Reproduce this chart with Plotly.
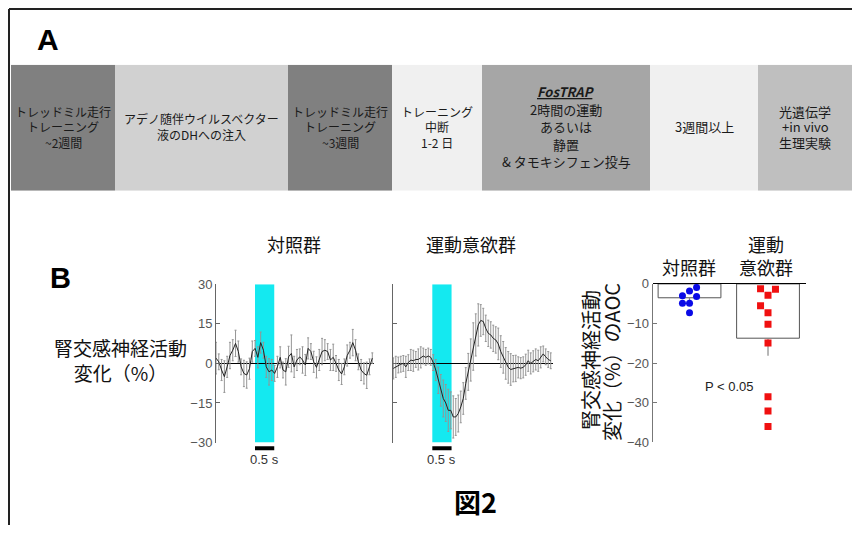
import plotly.graph_objects as go

# ---------------- data ----------------
stage_labels = [
    "トレッドミル走行<br>トレーニング<br>~2週間",
    "アデノ随伴ウイルスベクター<br>液のDHへの注入",
    "トレッドミル走行<br>トレーニング<br>~3週間",
    "トレーニング<br>中断<br>1-2 日",
    "<b><i><u>FosTRAP</u></i></b><br>2時間の運動<br>あるいは<br>静置<br>&amp; タモキシフェン投与",
    "3週間以上",
    "光遺伝学<br>+in vivo<br>生理実験",
]
stage_widths = [104, 173, 104, 90, 168, 108, 94]

stim_start, stim_end = 0.0, 0.5

control_trace = [2.0, 0.6, -2.5, -5.0, -1.3, 3.0, 5.0, 7.6, 4.5, -1.3,
                 -3.8, -4.4, -2.0, 4.5, 5.7, 2.3, 7.9, 5.0, -1.3, -3.2,
                 -2.5, -3.8, -1.3, 2.3, -2.5, -3.2, 2.5, 3.8, -1.3, 1.3,
                 2.5, 1.3, -0.6, 5.7, 4.5, 0.6, -1.5, 1.3, 4.5, 5.0,
                 4.5, 1.3, 2.3, 0.0, -2.5, -4.0, -1.3, 3.0, 5.0, 7.9,
                 5.0, 0.6, -2.5, -3.8, -4.5, -1.3, 2.0]
control_err = [6, 3, 4, 6, 4, 5, 4, 5, 4, 3,
               5, 5, 4, 4, 3, 4, 4, 3, 4, 5,
               4, 3, 4, 4, 3, 5, 4, 7, 4, 4,
               3, 5, 4, 4, 3, 4, 4, 4, 5, 4,
               3, 4, 5, 3, 4, 4, 3, 4, 3, 5,
               4, 3, 4, 4, 5, 3, 2]

motiv_trace = [-1.9, -1.3, -0.6, -0.3, 0.0, -1.3, 0.3, 1.3, 1.0, 1.5,
               1.5, 2.3, 2.8, 2.3, 2.8, 2.3, 0.3, -2.5, -6.4, -10.2,
               -13.3, -15.0, -17.8, -17.8, -20.3, -20.3, -19.0, -16.5, -13.3, -7.6,
               -3.2, 1.3, 6.4, 10.8, 14.6, 16.3, 15.9, 13.3, 11.4, 10.8,
               9.5, 8.9, 7.4, 4.5, 2.3, 0.0, -1.5, -2.3, -2.0, -1.9,
               -1.5, -1.8, -1.5, -0.5, 1.0, 0.0, 0.8, 1.5, 1.0, 2.3,
               3.6, 2.5, 1.5, 1.0]
motiv_err = [4, 4, 3, 3, 3, 4, 3, 4, 4, 3,
             4, 4, 3, 3, 3, 3, 3, 4, 5, 6,
             7, 7, 8, 7, 8, 7, 7, 6, 6, 6,
             7, 8, 9, 8, 8, 6, 5, 5, 5, 5,
             5, 5, 6, 6, 6, 6, 6, 6, 5, 5,
             4, 4, 4, 4, 4, 4, 4, 4, 4, 4,
             3, 3, 3, 3]

t0_left, dt_left = -1.013, 0.0725
t0_right, dt_right = -1.013, 0.0649
t_left = [round(t0_left + dt_left * i, 4) for i in range(len(control_trace))]
t_right = [round(t0_right + dt_right * i, 4) for i in range(len(motiv_trace))]

groups = ["対照群", "運動<br>意欲群"]
group_means = [-3.5, -13.7]
group_sem = [0.8, 4.4]
control_aoc = [-0.9, -1.8, -3.0, -3.2, -4.9, -4.9, -7.3]
control_jit = [0.09, 0.0, -0.09, 0.09, -0.09, 0.0, 0.0]
motiv_aoc = [-1.2, -1.35, -2.85, -5.5, -7.25, -10.2, -14.9, -28.5, -32.1, -36.0]
motiv_jit = [-0.095, 0.095, 0.0, -0.095, 0.0, 0.0, 0.0, 0.0, 0.0, 0.0]

y_ticks_trace = [-30, -15, 0, 15, 30]
y_ticks_bar = [-40, -30, -20, -10, 0]

# ---------------- helpers ----------------
W, H = 852, 533
# the page is photographed slightly compressed vertically; compensate
Y_OFF, Y_SCALE = 8.5, 0.968
def px(x): return x / W
def py(y): return 1 - ((y - Y_OFF) / Y_SCALE) / H

JP = "Noto Sans CJK JP"
LAT = "Liberation Sans, Arial, sans-serif"
stage_colors = ["#808080", "#d1d1d1", "#808080", "#f0f0f0", "#a6a6a6", "#f0f0f0", "#bfbfbf"]
stage_sizes = [12, 12, 12, 12, 13, 13, 13]
BOX_TOP, BOX_BOTTOM = 66, 191.5
LINE_GAP = 17.5  # px between text lines inside the timeline boxes

fig = go.Figure()

# Panel A timeline
bases = []
acc = 0
for w in stage_widths:
    bases.append(acc)
    acc += w
fig.add_trace(go.Bar(x=stage_widths, y=[0] * len(stage_widths), base=bases, orientation="h",
                     width=1, marker=dict(color=stage_colors, line_width=0),
                     xaxis="x4", yaxis="y4", hoverinfo="skip", showlegend=False))

annotations = []
box_mid = (BOX_TOP + BOX_BOTTOM) / 2 - 1
for lab, b, w, s in zip(stage_labels, bases, stage_widths, stage_sizes):
    lines = lab.split("<br>")
    gap = LINE_GAP if len(lines) > 3 else 15.5
    n = len(lines)
    for k, line in enumerate(lines):
        yy = box_mid + (k - (n - 1) / 2) * gap
        annotations.append(dict(x=b + w / 2, y=py(yy), xref="x4", yref="paper", text=line,
                                showarrow=False, xanchor="center", yanchor="middle",
                                font=dict(family=JP, size=s, color="#1a1a1a"), align="center"))

# Traces
fig.add_trace(go.Scatter(x=t_left, y=control_trace, mode="lines",
                         line=dict(color="#222222", width=1),
                         error_y=dict(type="data", array=control_err, color="#959595", thickness=1, width=1),
                         xaxis="x", yaxis="y", showlegend=False, hoverinfo="skip"))
fig.add_trace(go.Scatter(x=t_right, y=motiv_trace, mode="lines",
                         line=dict(color="#222222", width=1),
                         error_y=dict(type="data", array=motiv_err, color="#959595", thickness=1, width=1),
                         xaxis="x2", yaxis="y2", showlegend=False, hoverinfo="skip"))

# Bar chart
fig.add_trace(go.Bar(x=[0, 1], y=group_means, width=0.8,
                     marker=dict(color="white", line=dict(color="#555555", width=1)),
                     error_y=dict(type="data", symmetric=False, array=[0, 0], arrayminus=group_sem,
                                  color="#888888", thickness=1.2, width=0),
                     xaxis="x3", yaxis="y3", showlegend=False, hoverinfo="skip"))
fig.add_trace(go.Scatter(x=[0 + j for j in control_jit], y=control_aoc, mode="markers",
                         marker=dict(color="#0a0ae6", size=7, symbol="circle"),
                         xaxis="x3", yaxis="y3", showlegend=False, hoverinfo="skip"))
fig.add_trace(go.Scatter(x=[1 + j for j in motiv_jit], y=motiv_aoc, mode="markers",
                         marker=dict(color="#f01010", size=7, symbol="square"),
                         xaxis="x3", yaxis="y3", showlegend=False, hoverinfo="skip"))

shapes = []
# frame
top_line = 1 - 2.0 / H
shapes.append(dict(type="line", xref="paper", yref="paper", x0=px(9), x1=1, y0=top_line, y1=top_line,
                   line=dict(color="#222222", width=2)))
shapes.append(dict(type="line", xref="paper", yref="paper", x0=px(9), x1=px(9), y0=top_line, y1=0,
                   line=dict(color="#222222", width=2)))
# stimulation bands + scale bars
for xr, yr in (("x", "y"), ("x2", "y2")):
    shapes.append(dict(type="rect", xref=xr, yref=yr, x0=stim_start, x1=stim_end, y0=-30, y1=30,
                       fillcolor="#14e9f0", line_width=0, layer="below"))
    shapes.append(dict(type="line", xref=xr, yref="paper", x0=stim_start, x1=stim_end,
                       y0=py(448), y1=py(448), line=dict(color="black", width=4)))
    annotations.append(dict(x=(stim_start + stim_end) / 2, y=py(459), xref=xr, yref="paper",
                            text="0.5 s", showarrow=False, xanchor="center", yanchor="middle",
                            font=dict(family=LAT, size=13, color="#333333")))

def txt(x, y, text, size, family=JP, color="#111111", angle=0):
    annotations.append(dict(x=px(x), y=py(y), xref="paper", yref="paper", text=text,
                            showarrow=False, textangle=angle, xanchor="center", yanchor="middle",
                            font=dict(family=family, size=size, color=color), align="center"))

txt(48, 41, "<b>A</b>", 30, family=LAT, color="black")
txt(60, 278, "<b>B</b>", 29, family=LAT, color="black")
txt(120, 360, "腎交感神経活動<br>変化（%）", 19)
txt(294, 245, "対照群", 18)
txt(471, 245, "運動意欲群", 18)
txt(689, 267, groups[0], 18)
txt(766, 256, groups[1], 18)
txt(591, 360, "腎交感神経活動", 20, angle=-90)
txt(612, 362, "変化（%）のAOC", 20, angle=-90)
txt(729, 386, "P &lt; 0.05", 13, family=LAT, color="#222222")
txt(476, 501, "<b>図2</b>", 27, color="black")

trace_y = dict(range=[-30, 30], tickvals=y_ticks_trace, ticks="inside", ticklen=4,
               tickcolor="#666666", showline=True, linecolor="#666666", linewidth=1,
               zeroline=True, zerolinecolor="black", zerolinewidth=1, showgrid=False,
               tickfont=dict(family=LAT, size=13, color="#555555"), fixedrange=True)

fig.update_layout(
    width=W, height=H, margin=dict(l=0, r=0, t=0, b=0),
    paper_bgcolor="white", plot_bgcolor="rgba(0,0,0,0)",
    showlegend=False, barmode="overlay",
    xaxis=dict(domain=[px(216), px(374)], range=[-1.013, 3.091], visible=False, anchor="y"),
    yaxis=dict(domain=[py(442.3), py(284.7)], anchor="x", **trace_y),
    xaxis2=dict(domain=[px(393), px(553)], range=[-1.021, 3.135], visible=False, anchor="y2"),
    yaxis2=dict(domain=[py(442.3), py(284.7)], anchor="x2", showticklabels=False,
                **{k: v for k, v in trace_y.items() if k != "tickfont"}),
    xaxis3=dict(domain=[px(652.7), px(806)], range=[-0.469, 1.484], visible=False, anchor="y3"),
    yaxis3=dict(domain=[py(442.2), py(284.3)], range=[-40, 0], anchor="x3", tickvals=y_ticks_bar,
                ticks="inside", ticklen=4, tickcolor="#777777", showline=True, linecolor="#777777",
                zeroline=True, zerolinecolor="black", zerolinewidth=1, showgrid=False,
                tickfont=dict(family=LAT, size=13, color="#555555")),
    xaxis4=dict(domain=[px(11), 1], range=[0, sum(stage_widths)], visible=False, anchor="y4"),
    yaxis4=dict(domain=[py(BOX_BOTTOM), py(BOX_TOP)], range=[-0.5, 0.5], visible=False, anchor="x4"),
    shapes=shapes, annotations=annotations,
)

fig.write_html("out.html", config={"displayModeBar": False},
               post_script="document.body.style.margin='0';document.body.style.overflow='hidden';")
